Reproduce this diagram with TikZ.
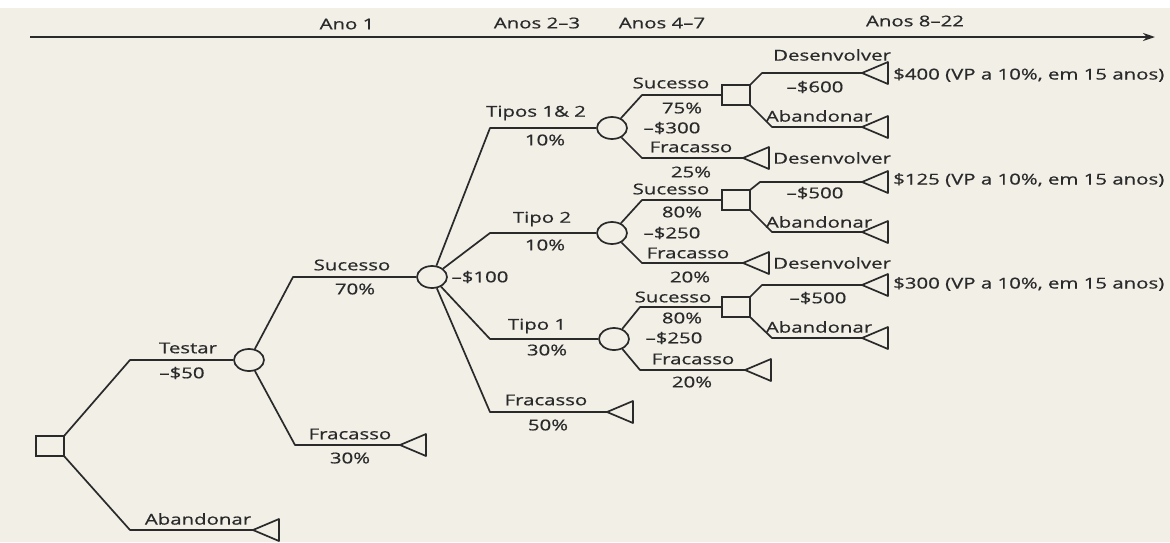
\documentclass[tikz,border=0pt]{standalone}
\usepackage{fontspec}
\setmainfont{Open Sans}[FakeStretch=1.36,FakeBold=0.6]
\usetikzlibrary{shapes.geometric,arrows.meta}
\definecolor{paper}{HTML}{F2EFE7}
\definecolor{ink}{HTML}{2A2A2A}
\tikzset{
  ln/.style={draw=ink, line width=1.7pt, line join=round},
  chance/.style={ellipse, draw=ink, line width=1.7pt, minimum width=30pt, minimum height=22pt, inner sep=0pt},
  decision/.style={rectangle, draw=ink, line width=2pt, minimum width=28pt, minimum height=20pt, inner sep=0pt, outer sep=0pt},
  lbl/.style={text=ink, inner sep=0pt, font=\fontsize{15}{17}\selectfont},
  lbll/.style={lbl, anchor=west},
}
\newcommand\ftri[3]{\coordinate (#1) at (#2,#3); \draw[ln] (#1) -- ++(26,-11) -- ++(0,22) -- cycle;}
\begin{document}
\begin{tikzpicture}[x=1pt,y=-1pt]
\useasboundingbox (0,0) rectangle (1170,542);
\fill[paper] (0,8) rectangle (1170,542);
% timeline
\coordinate (tl0) at (30,37);
\coordinate (tl1) at (1155,37);
\draw[ink, line width=2.4pt, -{Stealth[length=12pt,width=8pt]}] (tl0) -- (tl1);
\node[lbl] (y1) at (347,24) {Ano 1};
\node[lbl] (y23) at (537,23) {Anos 2–3};
\node[lbl] (y47) at (662,23) {Anos 4–7};
\node[lbl] (y822) at (915,21) {Anos 8–22};
% nodes
\node[decision] (root) at (50,446) {};
\node[chance] (tc) at (249,360) {};
\node[chance] (c100) at (432,277) {};
\node[chance] (c300) at (612,128) {};
\node[chance] (c250a) at (612,233) {};
\node[chance] (c250b) at (614,339) {};
\node[decision] (sq1) at (736,95) {};
\node[decision] (sq2) at (736,200) {};
\node[decision] (sq3) at (736,307) {};
\ftri{tab}{253}{530}
\ftri{tf30}{400}{445}
\ftri{tf50}{607}{412}
\ftri{tf25}{743}{158}
\ftri{tf20a}{743}{263}
\ftri{tf20b}{745}{370}
\ftri{td1}{862}{73}
\ftri{ta1}{862}{127}
\ftri{td2}{862}{182}
\ftri{ta2}{862}{232}
\ftri{td3}{862}{285}
\ftri{ta3}{862}{338}
% bend points
\coordinate (k1) at (130,360);
\coordinate (k2) at (130,530);
\coordinate (k3) at (293,277);
\coordinate (k4) at (295,445);
\coordinate (k5) at (490,128);
\coordinate (k6) at (490,233);
\coordinate (k7) at (490,339);
\coordinate (k8) at (490,412);
\coordinate (k9) at (642,95);
\coordinate (k10) at (642,158);
\coordinate (k11) at (762,73);
\coordinate (k12) at (772,127);
\coordinate (k13) at (642,200);
\coordinate (k14) at (642,263);
\coordinate (k15) at (760,182);
\coordinate (k16) at (772,232);
\coordinate (k17) at (640,307);
\coordinate (k18) at (640,370);
\coordinate (k19) at (762,285);
\coordinate (k20) at (772,338);
% connectors
\draw[ln] (root.north east) -- (k1) -- (tc);
\draw[ln] (root.south east) -- (k2) -- (tab);
\draw[ln] (tc) -- (k3) -- (c100);
\draw[ln] (tc) -- (k4) -- (tf30);
\draw[ln] (c100) -- (k5) -- (c300);
\draw[ln] (c100) -- (k6) -- (c250a);
\draw[ln] (c100) -- (k7) -- (c250b);
\draw[ln] (c100) -- (k8) -- (tf50);
\draw[ln] (c300) -- (k9) -- (sq1);
\draw[ln] (c300) -- (k10) -- (tf25);
\draw[ln] (sq1.north east) -- (k11) -- (td1);
\draw[ln] (sq1.south east) -- (k12) -- (ta1);
\draw[ln] (c250a) -- (k13) -- (sq2);
\draw[ln] (c250a) -- (k14) -- (tf20a);
\draw[ln] (sq2.north east) -- (k15) -- (td2);
\draw[ln] (sq2.south east) -- (k16) -- (ta2);
\draw[ln] (c250b) -- (k17) -- (sq3);
\draw[ln] (c250b) -- (k18) -- (tf20b);
\draw[ln] (sq3.north east) -- (k19) -- (td3);
\draw[ln] (sq3.south east) -- (k20) -- (ta3);
% labels
\node[lbl] (l1) at (188,348) {Testar};
\node[lbl] (l2) at (182,373) {–\$50};
\node[lbl] (l3) at (198,519) {Abandonar};
\node[lbl] (l4) at (352,265) {Sucesso};
\node[lbl] (l5) at (355,289) {70\%};
\node[lbl] (l6) at (350,434) {Fracasso};
\node[lbl] (l7) at (350,458) {30\%};
\node[lbl] (l8) at (480,277) {–\$100};
\node[lbl] (l9) at (536,113) {Tipos 1\& 2};
\node[lbl] (l10) at (545,140) {10\%};
\node[lbl] (l11) at (542,219) {Tipo 2};
\node[lbl] (l12) at (545,245) {10\%};
\node[lbl] (l13) at (537,326) {Tipo 1};
\node[lbl] (l14) at (547,350) {30\%};
\node[lbl] (l15) at (546,400) {Fracasso};
\node[lbl] (l16) at (548,425) {50\%};
\node[lbl] (l17) at (672,128) {–\$300};
\node[lbl] (l18) at (671,83) {Sucesso};
\node[lbl] (l19) at (682,108) {75\%};
\node[lbl] (l20) at (691,147) {Fracasso};
\node[lbl] (l21) at (691,172) {25\%};
\node[lbll] (l22) at (773,55) {Desenvolver};
\node[lbl] (l23) at (815,87) {–\$600};
\node[lbl] (l24) at (819,116) {Abandonar};
\node[lbll] (l25) at (893,75) {\$400 (VP a 10\%, em 15 anos)};
\node[lbll] (l26) at (773,158) {Desenvolver};
\node[lbl] (l27) at (672,233) {–\$250};
\node[lbl] (l28) at (671,189) {Sucesso};
\node[lbl] (l29) at (682,212) {80\%};
\node[lbl] (l30) at (688,253) {Fracasso};
\node[lbl] (l31) at (690,277) {20\%};
\node[lbl] (l32) at (815,193) {–\$500};
\node[lbl] (l33) at (819,222) {Abandonar};
\node[lbll] (l34) at (893,180) {\$125 (VP a 10\%, em 15 anos)};
\node[lbll] (l35) at (773,263) {Desenvolver};
\node[lbl] (l36) at (674,338) {–\$250};
\node[lbl] (l37) at (673,297) {Sucesso};
\node[lbl] (l38) at (682,318) {80\%};
\node[lbl] (l39) at (693,359) {Fracasso};
\node[lbl] (l40) at (692,382) {20\%};
\node[lbl] (l41) at (818,298) {–\$500};
\node[lbl] (l42) at (819,327) {Abandonar};
\node[lbll] (l43) at (893,284) {\$300 (VP a 10\%, em 15 anos)};
\end{tikzpicture}
\end{document}
